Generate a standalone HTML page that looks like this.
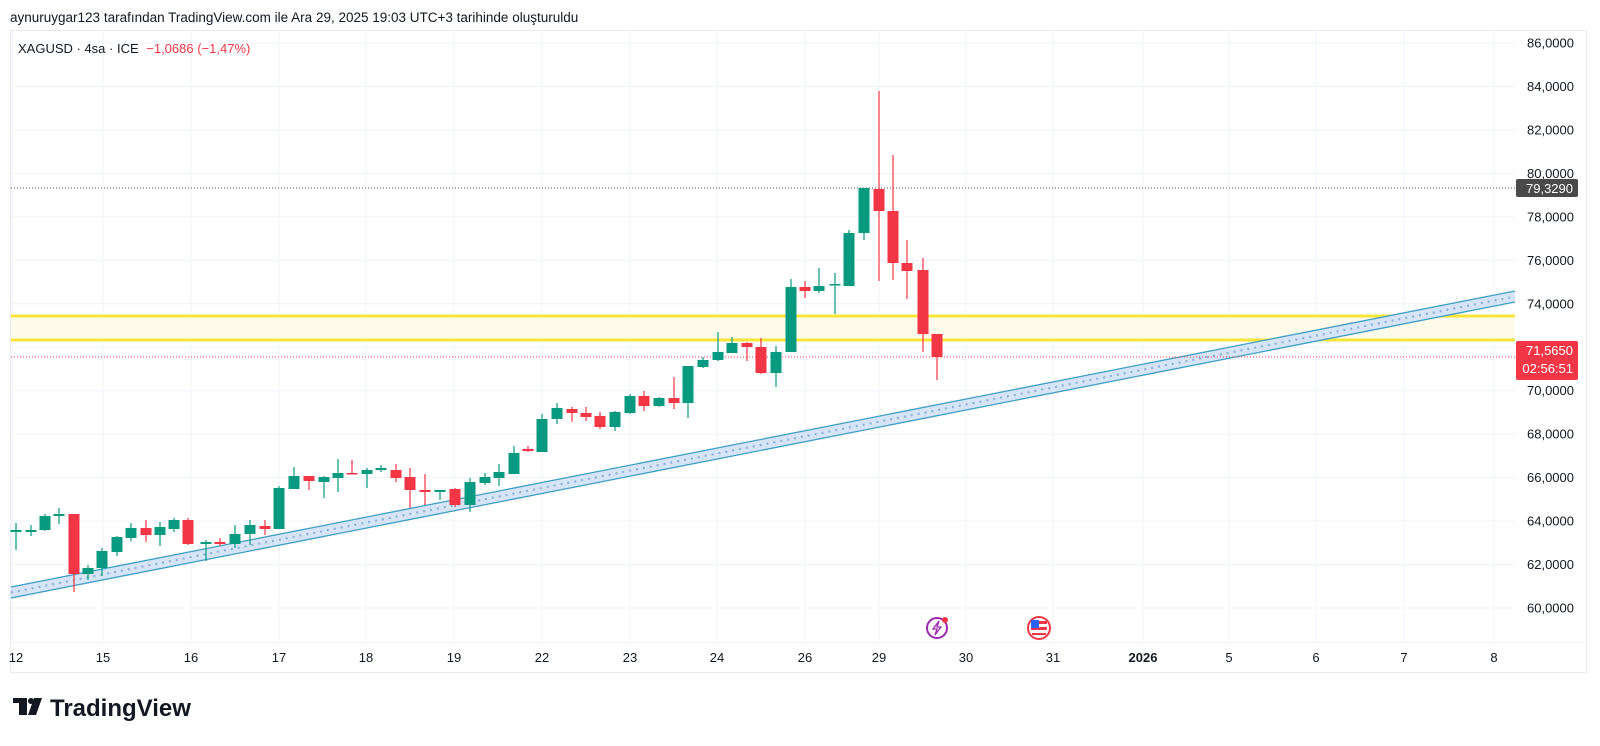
<!DOCTYPE html>
<html><head><meta charset="utf-8"><style>
html,body{margin:0;padding:0;background:#fff;}
body{width:1600px;height:741px;overflow:hidden;font-family:"Liberation Sans","DejaVu Sans",sans-serif;}
</style></head><body>
<svg width="1600" height="741" viewBox="0 0 1600 741" xmlns="http://www.w3.org/2000/svg" font-family="Liberation Sans, DejaVu Sans, sans-serif">
<text x="10" y="22" font-size="13.5" fill="#131722">aynuruygar123 tarafından TradingView.com ile Ara 29, 2025 19:03 UTC+3 tarihinde oluşturuldu</text>
<rect x="10.5" y="30.5" width="1576" height="642" fill="#fff" stroke="#e8eaf0"/>
<g stroke="#f0f3fa" stroke-width="1" id="grid"></g>
<line x1="10" y1="642.5" x2="1586" y2="642.5" stroke="#f0f3fa"/>
<rect x="11" y="316" width="1504" height="24" fill="#fffbea"/>
<line x1="11" y1="316" x2="1515" y2="316" stroke="#f9e43a" stroke-width="3"/>
<line x1="11" y1="340" x2="1515" y2="340" stroke="#f9e43a" stroke-width="3"/>
<polygon points="11,587 1515,291 1515,302 11,598" fill="#d6e4f7"/>
<line x1="11" y1="587" x2="1515" y2="291" stroke="#3f9fc4" stroke-width="1.3"/>
<line x1="11" y1="598" x2="1515" y2="302" stroke="#3f9fc4" stroke-width="1.3"/>
<line x1="11" y1="592.5" x2="1515" y2="296.5" stroke="#8fb0d6" stroke-width="2.2" stroke-dasharray="2,5"/>
<line x1="11" y1="188" x2="1515" y2="188" stroke="#555" stroke-width="1" stroke-dasharray="1,2"/>
<line x1="11" y1="357" x2="1515" y2="357" stroke="#f23645" stroke-width="1" stroke-dasharray="1,2"/>
<g id="candles"></g>
<text x="18" y="53" font-size="13" fill="#131722">XAGUSD · 4sa · ICE <tspan fill="#f23645" dx="4">−1,0686 (−1,47%)</tspan></text>
<g id="plabels" font-size="13" fill="#131722" text-anchor="end"></g>
<g id="tlabels" font-size="13" fill="#131722" text-anchor="middle"></g>
<rect x="1516" y="179" width="62" height="18" rx="2" fill="#4a4a4a"/>
<text x="1573" y="193" font-size="13" fill="#fff" text-anchor="end">79,3290</text>
<rect x="1516" y="341" width="62" height="39" rx="2" fill="#f23645"/>
<text x="1573" y="355" font-size="13" fill="#fff" text-anchor="end">71,5650</text>
<text x="1573" y="373" font-size="13" fill="#fff" text-anchor="end">02:56:51</text>
<circle cx="937" cy="628" r="10" fill="#fff" stroke="#9c27b0" stroke-width="2"/>
<path d="M939 621 L933 629 L937 629 L935 635 L941 627 L937 627 Z" fill="none" stroke="#9c27b0" stroke-width="1.3"/>
<circle cx="945" cy="620" r="3" fill="#f23645"/>
<circle cx="1039" cy="628" r="11" fill="#fff" stroke="#f23645" stroke-width="2"/>
<rect x="1031" y="621" width="16" height="3" fill="#f23645"/><rect x="1031" y="627" width="16" height="3" fill="#f23645"/><rect x="1032" y="633" width="14" height="2" fill="#f23645"/>
<rect x="1031" y="620" width="8" height="8" fill="#2962ff"/>
<g fill="#131722">
<rect x="13" y="698" width="14" height="5"/><rect x="19" y="698" width="8" height="17"/>
<circle cx="31" cy="701" r="3"/>
<polygon points="34,698 42,698 36,715 28,715"/>
</g>
<text x="50" y="716" font-size="24" font-weight="bold" fill="#131722">TradingView</text>
<script>
var ns="http://www.w3.org/2000/svg";
function el(t,a,p){var e=document.createElementNS(ns,t);for(var k in a)e.setAttribute(k,a[k]);p.appendChild(e);return e;}
function Y(p){return 608-(p-60)*21.73;}
var g=document.getElementById('grid');
var pl=document.getElementById('plabels');
for(var p=60;p<=86;p+=2){var y=Y(p);el('line',{x1:11,y1:y,x2:1515,y2:y},g);
 var t=el('text',{x:1574,y:y+4.5},pl);t.textContent=p+',0000';}
var days=[[12,'12'],[103,'15'],[191,'16'],[279,'17'],[366,'18'],[454,'19'],[542,'22'],[630,'23'],[717,'24'],[805,'26'],[879,'29'],[966,'30'],[1053,'31'],[1143,'2026'],[1229,'5'],[1316,'6'],[1404,'7'],[1494,'8']];
var tl=document.getElementById('tlabels');
days.forEach(function(d){el('line',{x1:d[0],y1:31,x2:d[0],y2:642},g);
 var t=el('text',{x:d[0]+(d[1]=='12'?4:0),y:662},tl);t.textContent=d[1];if(d[1]=='2026')t.setAttribute('font-weight','bold');});
var C=[[16,530,532,523,550,'g'],[31,530,532,525,536,'g'],[45,516,530,514,531,'g'],[59,514,516,508,524,'g'],[74,514,574,514,592,'r'],[88,568,574,565,580,'g'],[102,551,568,548,576,'g'],[117,537,552,536,556,'g'],[131,528,538,523,541,'g'],[146,528,535,520,542,'r'],[160,527,535,522,546,'g'],[174,520,529,518,532,'g'],[188,520,544,518,545,'r'],[206,542,544,540,561,'g'],[220,542,544,538,546,'r'],[235,534,544,525,548,'g'],[250,525,534,520,545,'g'],[265,526,529,520,535,'r'],[279,488,529,486,529,'g'],[294,476,489,467,489,'g'],[309,476,481,476,490,'r'],[324,477,482,476,498,'g'],[338,473,478,459,492,'g'],[352,473,474,460,474,'r'],[367,470,474,468,488,'g'],[381,468,470,465,472,'g'],[396,470,478,464,482,'r'],[410,477,490,468,508,'r'],[425,490,492,474,505,'r'],[440,490,492,490,500,'g'],[455,489,505,488,507,'r'],[470,482,505,478,512,'g'],[485,477,483,473,485,'g'],[499,472,478,464,486,'g'],[514,453,474,446,474,'g'],[528,449,451,446,452,'r'],[542,419,452,414,452,'g'],[557,408,419,403,424,'g'],[572,409,413,407,422,'r'],[586,413,417,407,421,'r'],[600,416,427,412,429,'r'],[615,412,427,411,431,'g'],[630,396,413,394,414,'g'],[644,396,406,391,411,'r'],[659,398,406,397,407,'g'],[674,398,403,377,409,'r'],[688,366,403,366,418,'g'],[703,360,367,357,368,'g'],[718,352,360,332,361,'g'],[732,343,353,337,353,'g'],[747,343,347,342,361,'r'],[761,347,373,338,374,'r'],[776,352,373,346,387,'g'],[791,287,352,279,352,'g'],[805,287,291,281,298,'r'],[819,286,291,268,293,'g'],[835,284,285,273,314,'g'],[849,233,286,230,286,'g'],[864,188,233,188,240,'g'],[879,189,211,91,281,'r'],[893,211,263,155,280,'r'],[907,263,271,240,299,'r'],[923,270,334,258,352,'r'],[937,334,357,334,380,'r']];
var cg=document.getElementById('candles');
C.forEach(function(c){var col=c[5]=='g'?'#089981':'#f23645';
 el('line',{x1:c[0],y1:c[3],x2:c[0],y2:c[4],stroke:col,'stroke-width':1.2},cg);
 el('rect',{x:c[0]-5.5,y:c[1],width:11,height:Math.max(1.5,c[2]-c[1]),fill:col},cg);});
</script>
</svg>
</body></html>
